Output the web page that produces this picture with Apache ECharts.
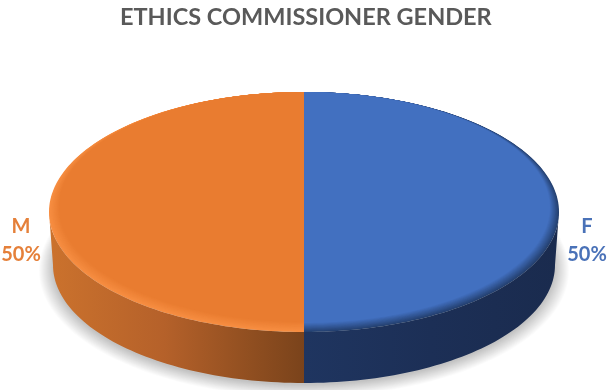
<!DOCTYPE html>
<html>
<head>
<meta charset="utf-8">
<style>html,body{margin:0;padding:0;background:#fff}#chart{width:615px;height:390px}</style>
<script src="https://cdn.jsdelivr.net/npm/echarts@6/dist/echarts.min.js"></script>
</head>
<body>
<div id="chart"></div>
<script>
// Ethics commissioner gender split, drawn as a tilted pie with a raised edge.
const chartTitle = 'ETHICS COMMISSIONER GENDER';
const categories = ['F', 'M'];
const values = [50, 50];

const topColors = ['#4270c0', '#e97c30'];
const rimColors = ['#24406f', '#f78e42'];
const labelColors = ['#4a72b8', '#e5803a'];
const sideStops = [
  [[0, '#1f3560'], [0.5, '#1c2f56'], [1, '#1a2b4e']],
  [[0, '#cb722d'], [0.45, '#b5612a'], [0.8, '#8f4e20'], [1, '#7a431b']]
];

// Ellipses of the upper face and of the foot of the edge wall.
const face = { cx: 304, cy: 212, rx: 255, ry: 120 };
const foot = { cx: 304, cy: 265, rx: 251, ry: 118 };
const rimWidth = [9, 10];
const rimLayers = 12;
const shadowLayers = 14;
const total = values.reduce((a, b) => a + b, 0);

function at(e, deg) {
  const t = deg * Math.PI / 180;
  return [e.cx + e.rx * Math.sin(t), e.cy - e.ry * Math.cos(t)];
}
function arc(e, from, to) {
  const pts = [];
  const n = Math.max(2, Math.ceil(Math.abs(to - from) / 1.5));
  for (let i = 0; i <= n; i++) pts.push(at(e, from + (to - from) * i / n));
  return pts;
}
function angleRange(i) {
  let before = 0;
  for (let k = 0; k < i; k++) before += values[k];
  return [before / total * 360, (before + values[i]) / total * 360];
}
function mix(a, b, t) {
  const p = c => [1, 3, 5].map(j => parseInt(c.slice(j, j + 2), 16));
  const A = p(a), B = p(b);
  return 'rgb(' + A.map((v, j) => Math.round(v + (B[j] - v) * t)).join(',') + ')';
}

// Soft ground shadow: stacked translucent ellipses spreading under the foot.
function renderShadow() {
  const children = [];
  for (let k = shadowLayers; k >= 0; k--) {
    children.push({
      type: 'ellipse',
      shape: { cx: foot.cx, cy: foot.cy + 2 + k * 0.25, rx: foot.rx + k, ry: foot.ry + k * 0.6 },
      style: { fill: 'rgba(0,0,0,0.016)' }
    });
  }
  return { type: 'group', children };
}

function renderSlice(params, api) {
  const i = api.value(0);
  const [a0, a1] = angleRange(i);
  const children = [];

  // Edge wall: only the front half of the disc faces the viewer.
  const s0 = Math.max(a0, 90), s1 = Math.min(a1, 270);
  if (s1 > s0) {
    children.push({
      type: 'polygon',
      shape: { points: arc(face, s0, s1).concat(arc(foot, s1, s0)) },
      style: { fill: new echarts.graphic.LinearGradient(0, 0, 1, 0, sideStops[i].map(s => ({ offset: s[0], color: s[1] }))) },
      z2: 1
    });
  }

  // Upper face: concentric layers fade from the rim colour to the face colour.
  for (let k = 0; k <= rimLayers; k++) {
    const t = k / rimLayers;
    const w = rimWidth[i] * t;
    const e = { cx: face.cx, cy: face.cy - w / 2, rx: face.rx - w, ry: face.ry - w / 2 };
    const pts = arc(e, a0, a1);
    pts.push([face.cx, e.cy]);
    children.push({
      type: 'polygon',
      shape: { points: pts },
      style: { fill: mix(rimColors[i], topColors[i], t) },
      z2: 2 + k
    });
  }

  // Category and share next to the disc.
  const mid = (a0 + a1) / 2;
  const side = Math.sin(mid * Math.PI / 180) >= 0 ? 1 : -1;
  children.push({
    type: 'text',
    style: {
      text: categories[i] + '\n' + Math.round(values[i] / total * 100) + '%',
      x: face.cx + side * 283,
      y: 241,
      align: 'center',
      verticalAlign: 'middle',
      lineHeight: 28,
      font: 'bold 20px Lato',
      fill: labelColors[i]
    },
    z2: 30
  });
  return { type: 'group', children };
}

const chart = echarts.init(document.getElementById('chart'), null, { renderer: 'canvas' });
chart.setOption({
  animation: false,
  backgroundColor: '#ffffff',
  title: {
    text: chartTitle,
    left: 115,
    top: 0,
    textStyle: { fontFamily: 'Lato', fontWeight: 'bold', fontSize: 23.5, color: '#595959' }
  },
  series: [
    { type: 'custom', coordinateSystem: 'none', silent: true, z: 1, data: [[0]], renderItem: renderShadow },
    {
      type: 'custom',
      coordinateSystem: 'none',
      silent: true,
      z: 2,
      data: categories.map((c, i) => [i, values[i]]),
      renderItem: renderSlice
    }
  ]
});
</script>
</body>
</html>
